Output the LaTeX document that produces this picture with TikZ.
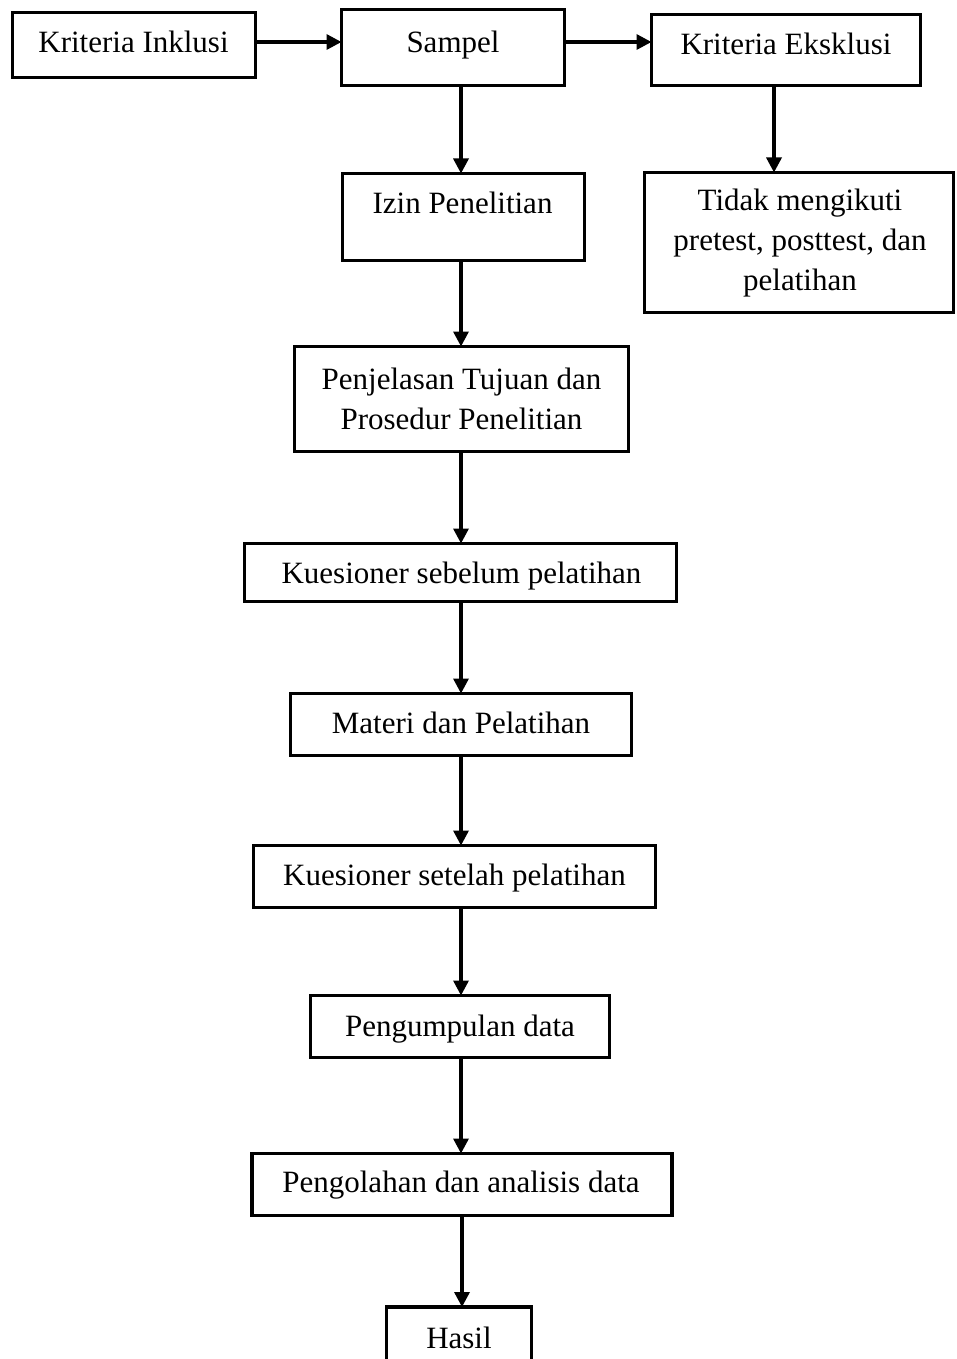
\documentclass[tikz,border=0pt]{standalone}
\usepackage{fontspec}
\setmainfont{Liberation Serif}
\usetikzlibrary{arrows.meta}
\begin{document}
\begin{tikzpicture}[x=1pt,y=-1pt,
  box/.style={draw=black, line width=3.3pt, rectangle, inner sep=0pt, outer sep=0pt},
  txt/.style={inner sep=0pt, outer sep=0pt, font=\fontsize{31}{40}\selectfont, text=black},
  arr/.style={draw=black, line width=3.3pt, -{Triangle[length=15pt,width=15pt]}}]
\clip (0,0) rectangle (957,1359);
\fill[white] (0,0) rectangle (957,1359);
% boxes
\node[box, minimum width=243pt, minimum height=65pt] (ki) at (134,45) {};
\node[box, minimum width=223pt, minimum height=76pt] (sampel) at (453,47.5) {};
\node[box, minimum width=269pt, minimum height=71pt] (eks) at (786,50) {};
\node[box, minimum width=242pt, minimum height=87pt] (izin) at (463.5,217) {};
\node[box, minimum width=309pt, minimum height=140pt] (tidak) at (799,242.5) {};
\node[box, minimum width=334pt, minimum height=105pt] (penj) at (461.5,399) {};
\node[box, minimum width=432pt, minimum height=58pt] (kues1) at (460.5,572.5) {};
\node[box, minimum width=341pt, minimum height=62pt] (materi) at (461,724.5) {};
\node[box, minimum width=402pt, minimum height=62pt] (kues2) at (454.5,876.5) {};
\node[box, minimum width=299pt, minimum height=62pt] (kumpul) at (460,1026.5) {};
\node[box, minimum width=420pt, minimum height=62pt] (olah) at (462,1184.5) {};
\node[box, minimum width=145pt, minimum height=90pt] (hasil) at (459,1352) {};
% texts
\node[txt, anchor=base] (ki-t) at (133.5,53) {Kriteria Inklusi};
\node[txt, anchor=base] (sampel-t) at (453,53) {Sampel};
\node[txt, anchor=base] (eks-t) at (786,55) {Kriteria Eksklusi};
\node[txt, anchor=base] (izin-t) at (462.5,213) {Izin Penelitian};
\node[txt, align=center] (tidak-t) at (800,243) {Tidak mengikuti\\pretest, posttest, dan\\pelatihan};
\node[txt, align=center] (penj-t) at (461.5,399) {Penjelasan Tujuan dan\\Prosedur Penelitian};
\node[txt, anchor=base] (kues1-t) at (461.5,583) {Kuesioner sebelum pelatihan};
\node[txt, anchor=base] (materi-t) at (461,733) {Materi dan Pelatihan};
\node[txt, anchor=base] (kues2-t) at (454.5,885) {Kuesioner setelah pelatihan};
\node[txt, anchor=base] (kumpul-t) at (460,1036) {Pengumpulan data};
\node[txt, anchor=base] (olah-t) at (461,1192) {Pengolahan dan analisis data};
\node[txt, anchor=base] (hasil-t) at (459,1348) {Hasil};
% guide coordinates
\coordinate (row) at (0,42);
\coordinate (col) at (461,0);
\coordinate (colb) at (462,0);
\coordinate (col2) at (774,0);
% connectors
\draw[arr] (ki.east |- row) -- (sampel.west |- row);
\draw[arr] (sampel.east |- row) -- (eks.west |- row);
\draw[arr] (sampel.south -| col) -- (izin.north -| col);
\draw[arr] (eks.south -| col2) -- (tidak.north -| col2);
\draw[arr] (izin.south -| col) -- (penj.north -| col);
\draw[arr] (penj.south -| col) -- (kues1.north -| col);
\draw[arr] (kues1.south -| col) -- (materi.north -| col);
\draw[arr] (materi.south -| col) -- (kues2.north -| col);
\draw[arr] (kues2.south -| col) -- (kumpul.north -| col);
\draw[arr] (kumpul.south -| col) -- (olah.north -| col);
\draw[arr] (olah.south -| colb) -- (hasil.north -| colb);
\end{tikzpicture}
\end{document}
